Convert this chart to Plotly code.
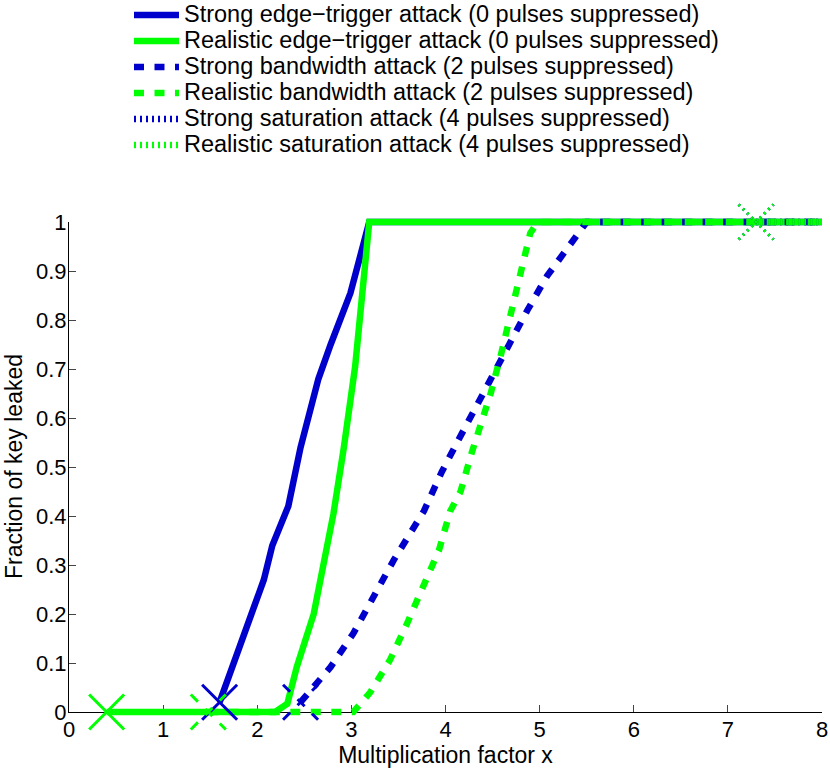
import plotly.graph_objects as go

BLUE = "#0000CC"
GREEN = "#00FF00"

# series data (each series starts at its X marker)
strong_edge_x = [1.6, 1.71, 1.85, 2.07, 2.16, 2.28, 2.33, 2.46, 2.65, 2.78, 2.99, 3.19, 8]
strong_edge_y = [0.02, 0.08, 0.147, 0.27, 0.34, 0.40, 0.42, 0.54, 0.68, 0.75, 0.855, 1, 1]

real_edge_x = [0.4, 2.19, 2.32, 2.42, 2.60, 2.74, 2.81, 2.92, 3.04, 3.19, 8]
real_edge_y = [0, 0, 0.017, 0.092, 0.20, 0.34, 0.405, 0.54, 0.705, 1, 1]

strong_bw_x = [2.46, 2.78, 3.02, 3.24, 3.45, 3.77, 3.96, 4.14, 4.34, 4.66, 4.87, 5.08, 5.33, 5.5, 8]
strong_bw_y = [0.02, 0.092, 0.16, 0.235, 0.31, 0.41, 0.49, 0.556, 0.63, 0.746, 0.82, 0.89, 0.956, 1, 1]

real_bw_x = [1.48, 3.02, 3.20, 3.41, 3.59, 3.77, 3.93, 4.05, 4.16, 4.28, 4.48, 4.59, 4.69, 4.80, 4.90, 4.98, 8]
real_bw_y = [0, 0, 0.04, 0.106, 0.18, 0.256, 0.33, 0.41, 0.45, 0.53, 0.65, 0.73, 0.81, 0.89, 0.977, 1, 1]

strong_sat_x = [7.3, 8]
strong_sat_y = [1, 1]

real_sat_x = [7.3, 8]
real_sat_y = [1, 1]

x_ticks = [0, 1, 2, 3, 4, 5, 6, 7, 8]
y_ticks = [0, 0.1, 0.2, 0.3, 0.4, 0.5, 0.6, 0.7, 0.8, 0.9, 1]

W, H = 830, 769
# axes box in pixels (as in the reference)
AX_L, AX_R, AX_T, AX_B = 69, 822, 222, 712
X_MAX, Y_MAX = 8, 1
px_per_x = (AX_R - AX_L) / X_MAX
px_per_y = (AX_B - AX_T) / Y_MAX
ARM = 17.5  # half size of the X marker in pixels

DASHED = "10px,10.5px"
DOTTED = "2px,4px"

series = [
    ("Strong edge\u2212trigger attack (0 pulses suppressed)", strong_edge_x, strong_edge_y, BLUE, "solid"),
    ("Realistic edge\u2212trigger attack (0 pulses suppressed)", real_edge_x, real_edge_y, GREEN, "solid"),
    ("Strong bandwidth attack (2 pulses suppressed)", strong_bw_x, strong_bw_y, BLUE, DASHED),
    ("Realistic bandwidth attack (2 pulses suppressed)", real_bw_x, real_bw_y, GREEN, DASHED),
    ("Strong saturation attack (4 pulses suppressed)", strong_sat_x, strong_sat_y, BLUE, DOTTED),
    ("Realistic saturation attack (4 pulses suppressed)", real_sat_x, real_sat_y, GREEN, DOTTED),
]

FONT = "Liberation Sans, Arial, sans-serif"

fig = go.Figure()

# empty trace so the visible x/y axes get drawn
fig.add_trace(go.Scatter(x=[], y=[], showlegend=False, hoverinfo="skip"))

# data go on a full-page subplot (x2/y2) so thick lines at 0 and 1 are not clipped;
# its range is set so it lines up exactly with the visible axes (x/y)
for name, xs, ys, color, dash in series:
    fig.add_trace(go.Scatter(
        x=xs, y=ys, mode="lines",
        name=f'<span style="font-size:23.5px">{name}</span>',
        line=dict(color=color, width=6.5, dash=dash),
        xaxis="x2", yaxis="y2",
    ))

# X marker at each series' start point, drawn with the series' line style
for name, xs, ys, color, dash in series:
    x0, y0 = xs[0], ys[0]
    dx, dy = ARM / px_per_x, ARM / px_per_y
    fig.add_trace(go.Scatter(
        x=[x0 - dx, x0 + dx, None, x0 - dx, x0 + dx],
        y=[y0 + dy, y0 - dy, None, y0 - dy, y0 + dy],
        mode="lines", showlegend=False, hoverinfo="skip",
        line=dict(color=color, width=3, dash=dash),
        xaxis="x2", yaxis="y2",
    ))

tick_font = dict(family=FONT, size=22, color="black")
title_font = dict(family=FONT, size=23, color="black")

fig.update_layout(
    width=W, height=H,
    margin=dict(l=0, r=0, t=0, b=0, autoexpand=False),
    plot_bgcolor="rgba(0,0,0,0)", paper_bgcolor="white",
    font=dict(family=FONT, color="black"),
    legend=dict(
        x=129 / W, xanchor="left",
        y=1.004, yanchor="top",
        font=dict(family=FONT, size=17.7, color="black"),
        bgcolor="rgba(0,0,0,0)", itemwidth=45, tracegroupgap=0,
    ),
    xaxis=dict(
        visible=True,
        domain=[AX_L / W, AX_R / W], range=[0, X_MAX], anchor="y",
        tickvals=x_ticks, ticktext=[str(v) for v in x_ticks],
        ticks="inside", ticklen=7, tickcolor="#444", showgrid=False, zeroline=False,
        showline=True, linecolor="black", linewidth=1, automargin=False,
        ticklabelstandoff=-2,
        title=dict(text="Multiplication factor x", standoff=0, font=title_font),
        tickfont=tick_font,
    ),
    yaxis=dict(
        visible=True,
        domain=[1 - AX_B / H, 1 - AX_T / H], range=[0, Y_MAX], anchor="x",
        tickvals=y_ticks, ticktext=[f"{v:g}" for v in y_ticks],
        ticks="inside", ticklen=7, tickcolor="#444", showgrid=False, zeroline=False,
        showline=True, linecolor="black", linewidth=1, automargin=False,
        ticklabelstandoff=-3,
        tickfont=tick_font,
    ),
    xaxis2=dict(
        domain=[0, 1], anchor="y2", visible=False, fixedrange=True,
        range=[(0 - AX_L) / px_per_x, (W - AX_L) / px_per_x],
    ),
    yaxis2=dict(
        domain=[0, 1], anchor="x2", visible=False, fixedrange=True,
        range=[(AX_B - H) / px_per_y, AX_B / px_per_y],
    ),
)

# y axis title sits closer to the page edge than plotly's own title placement allows
fig.add_annotation(
    text="Fraction of key leaked", textangle=-90, showarrow=False,
    xref="paper", yref="paper", x=14 / W, y=1 - (AX_T + AX_B) / 2 / H,
    xanchor="center", yanchor="middle", font=title_font,
)

# drop the page's default body margin so the figure sits at the window's corner
fig.write_html(
    "out.html",
    config={"displayModeBar": False},
    post_script="document.body.style.margin='0';",
)
